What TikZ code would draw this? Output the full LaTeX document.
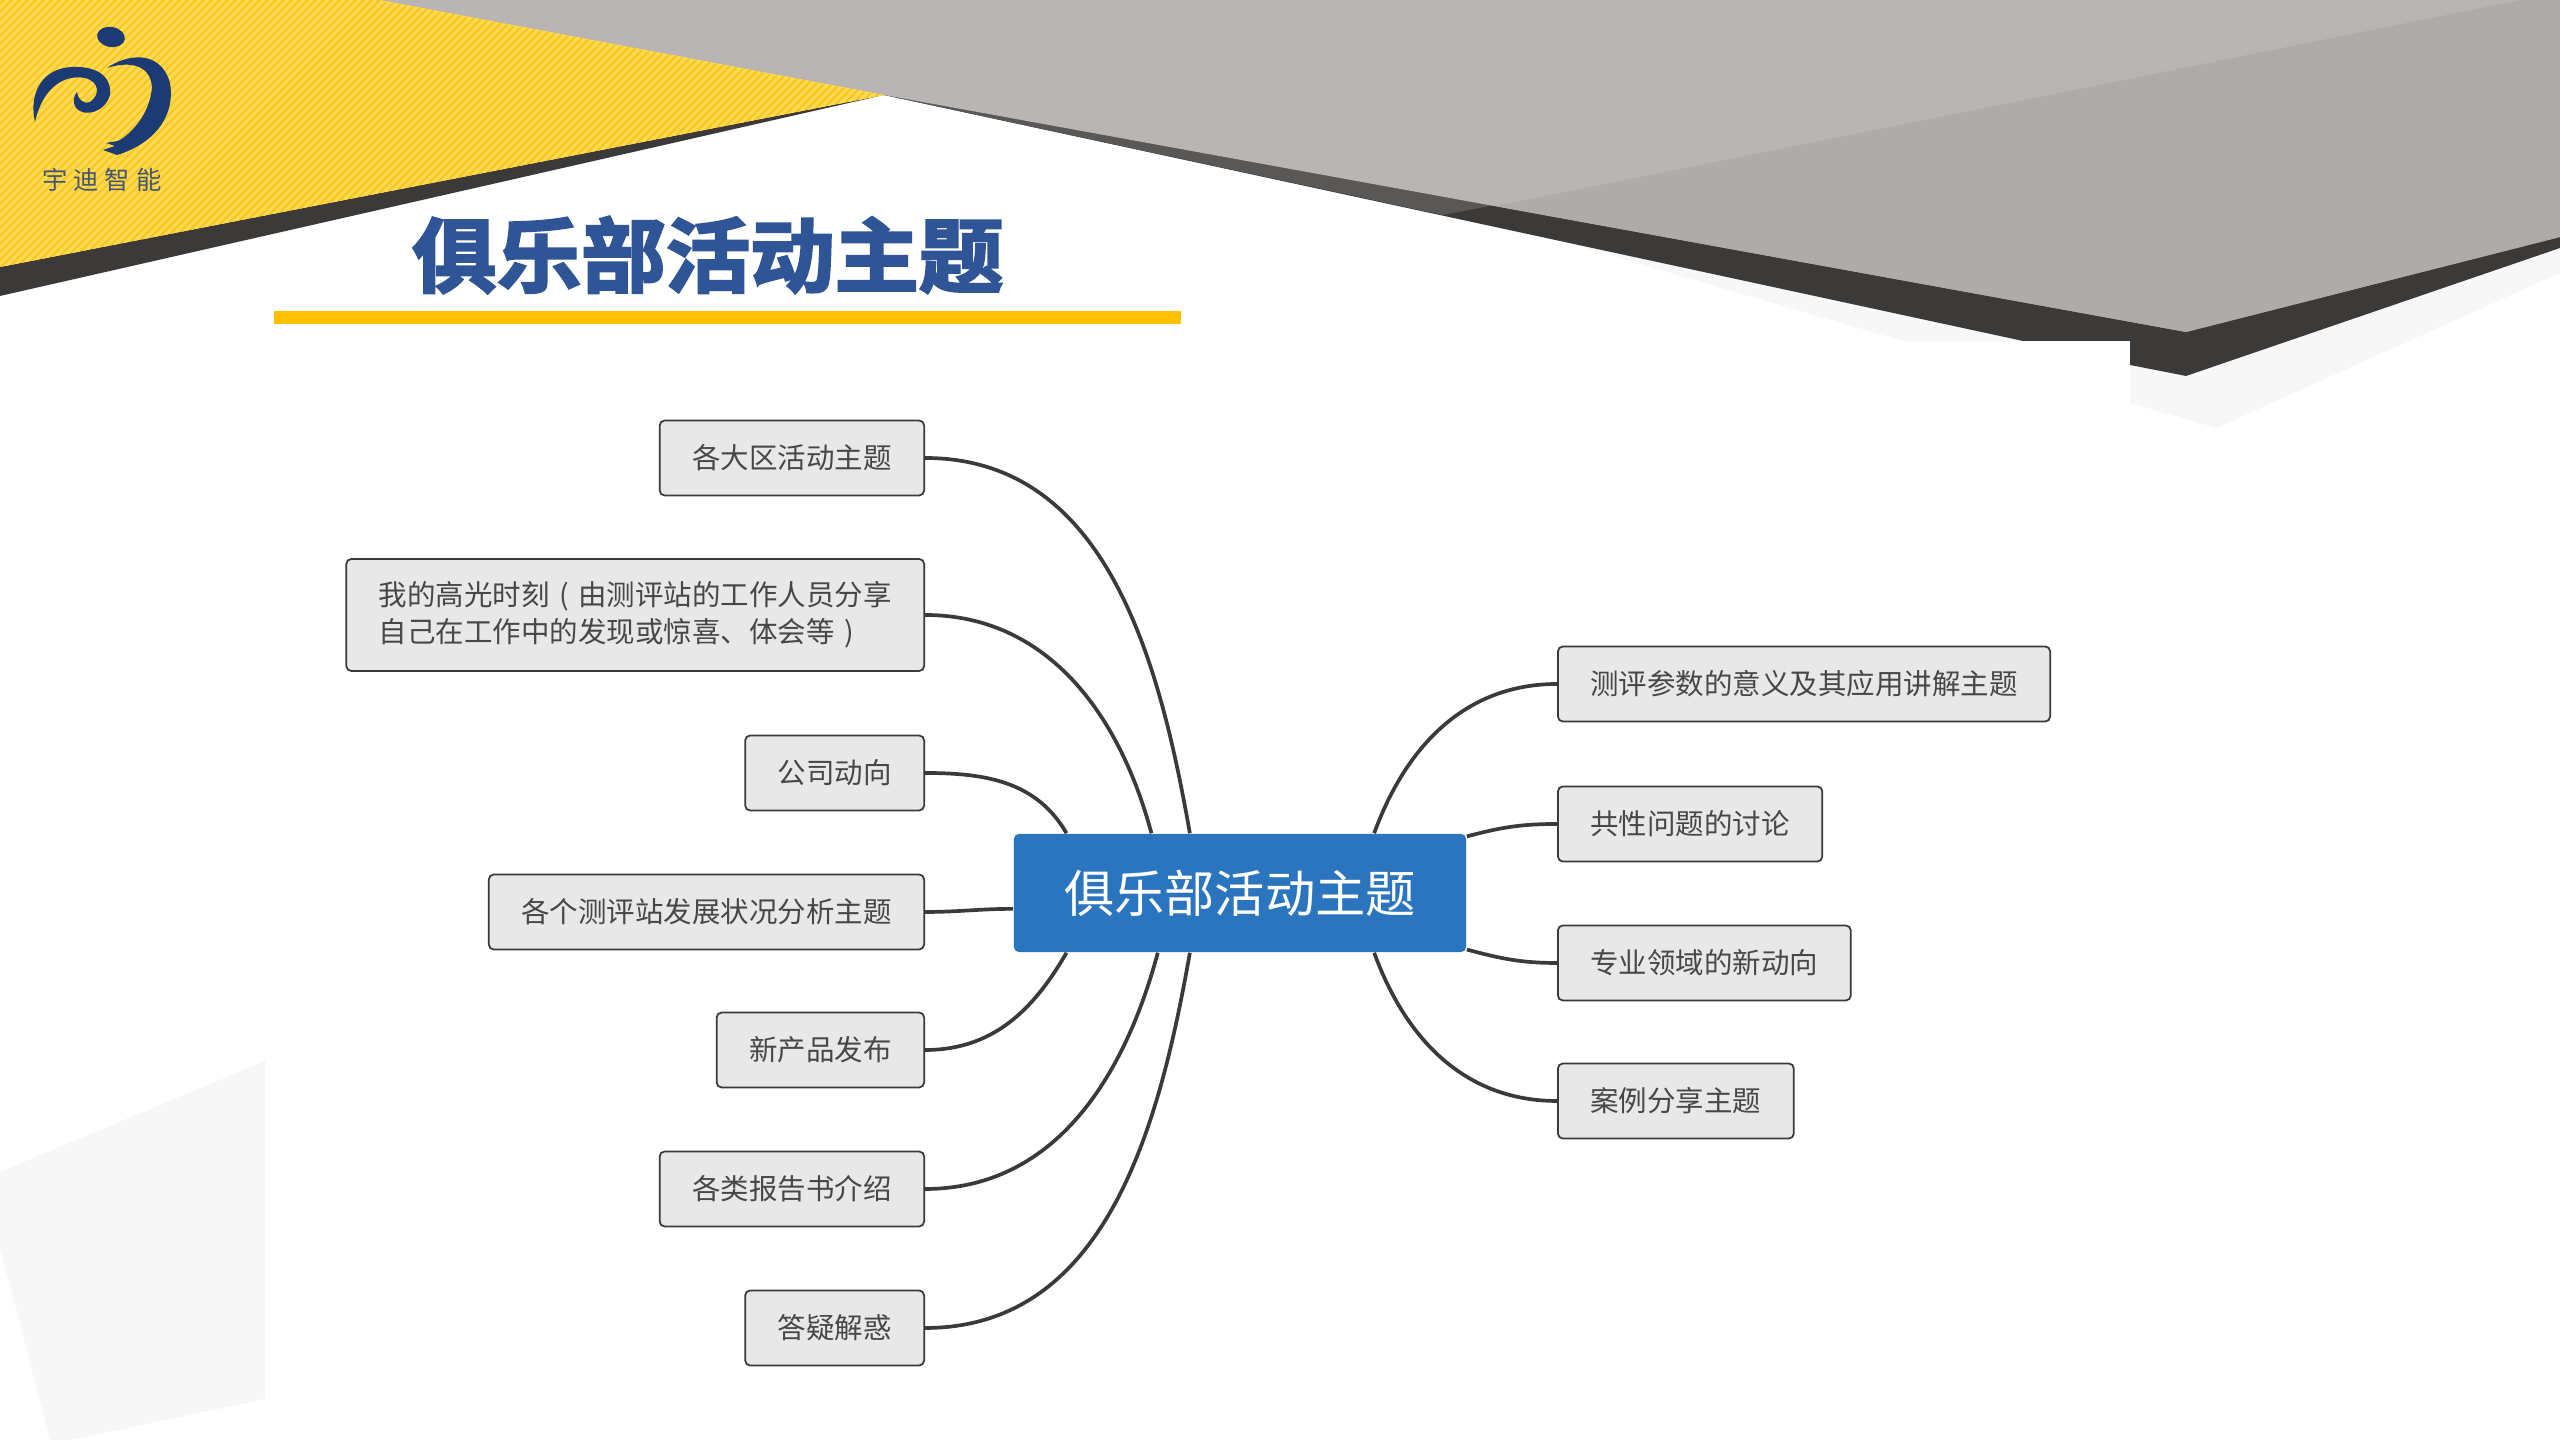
\documentclass[tikz,border=0pt]{standalone}
\usepackage{fontspec}
\usepackage{xcolor}
\usetikzlibrary{calc}
\setmainfont{Noto Sans CJK SC}
\newfontfamily\titlefont[FakeBold=3]{Noto Sans CJK SC Bold}
\definecolor{bandyellow}{HTML}{F9C61F}
\definecolor{stripeyellow}{HTML}{FFDA50}
\definecolor{banddark}{HTML}{3B3A39}
\definecolor{bandmid}{HTML}{595857}
\definecolor{graylight}{HTML}{B8B5B4}
\definecolor{graydark}{HTML}{AEABAA}
\definecolor{faintgray}{HTML}{F7F7F7}
\definecolor{logoblue}{HTML}{1C3A73}
\definecolor{titleblue}{HTML}{2F5597}
\definecolor{barorange}{HTML}{FFC000}
\definecolor{rootblue}{HTML}{2A75BE}
\tikzset{
    leaf/.style={rectangle, rounded corners=0.05cm, draw=banddark, line width=0.5pt, fill=black!9,
        text=black!72, minimum height=0.75cm, inner xsep=0.325cm, inner ysep=0pt,
        font=\fontsize{8.1pt}{10.4pt}\selectfont, align=left},
    root/.style={rectangle, rounded corners=0.05cm, fill=rootblue, text=white,
        minimum width=4.52cm, minimum height=1.18cm, font=\fontsize{14.3pt}{16pt}\selectfont},
    link/.style={draw=banddark, line width=1.05pt}
}
\newcommand{\openparen}{\makebox[1em][c]{(}}
\newcommand{\closeparen}{\makebox[1em][c]{)}}
\begin{document}
\begin{tikzpicture}[x=0.01cm, y=0.01cm]
    \useasboundingbox (0,0) rectangle (2560,1440);
    \fill[white] (0,0) rectangle (2560,1440);
    % faint shadows
    \fill[faintgray] (0,268) -- (265,379) -- (265,41) -- (70,0) -- (50,0) -- (0,193) -- cycle;
    \fill[faintgray] (1517,1212) -- (1903,1099) -- (2023,1099) -- cycle;
    \fill[faintgray] (2130,1075) -- (2130,1037) -- (2216,1012) -- (2560,1167) -- (2560,1192) -- cycle;
    % gray band
    \fill[banddark] (884,1345) -- (2023,1099) -- (2130,1099) -- (2130,1075) -- (2186,1064) -- (2560,1192) -- (2560,1300) -- cycle;
    \fill[bandmid] (884,1345) -- (1443,1225) -- (1495,1235) -- cycle;
    \fill[graylight] (379,1440) -- (884,1345) -- (2186,1108) -- (2560,1203) -- (2560,1440) -- cycle;
    \fill[graydark] (1495,1234) -- (2522,1440) -- (2560,1440) -- (2560,1203) -- (2186,1108) -- cycle;
    % yellow corner
    \fill[banddark] (0,1173) -- (884,1345) -- (0,1144) -- cycle;
    \begin{scope}
        \clip (0,1440) -- (379,1440) -- (884,1345) -- (0,1173) -- cycle;
        \fill[bandyellow] (0,1100) rectangle (900,1440);
        \foreach \s in {0,8,...,1300}
            \draw[stripeyellow, line width=0.035cm] (\s,1440) -- ++(-340,-340);
    \end{scope}
    % logo
    \fill[logoblue, rotate around={-10:(111,1403)}] (111,1403) ellipse (14 and 10);
    \fill[logoblue] (107,1372) .. controls (125,1385) and (160,1392) .. (170,1357)
        .. controls (176,1320) and (150,1295) .. (117,1285) -- (103,1290) -- (115,1294) -- (106,1297) -- (118,1299)
        .. controls (130,1305) and (150,1325) .. (152,1353) .. controls (150,1378) and (125,1378) .. (107,1372) -- cycle;
    \fill[logoblue] (35,1318) .. controls (28,1350) and (45,1372) .. (72,1373)
        .. controls (95,1374) and (112,1365) .. (110,1345) .. controls (105,1328) and (85,1322) .. (76,1332)
        .. controls (72,1338) and (74,1345) .. (77,1348) .. controls (78,1340) and (85,1335) .. (90,1338)
        .. controls (100,1345) and (100,1358) .. (85,1362) .. controls (62,1366) and (42,1350) .. (35,1318) -- cycle;
    \node[text=logoblue!75!black!80, font=\fontsize{7.2pt}{8pt}\selectfont] (logotext) at (102,1260) {宇\hspace{0.06cm}迪\hspace{0.06cm}智\hspace{0.06cm}能};
    % title
    \node[inner sep=0pt, text=titleblue] (title) at (708,1185) {\scalebox{1}[0.96]{\titlefont\fontsize{24pt}{26pt}\selectfont 俱乐部活动主题}};
    \fill[barorange] (274,1116) rectangle (1181,1129);
    % mind map
    \node[root] (center) at (1240,547) {俱乐部活动主题};
    \node[leaf, anchor=east] (areas) at (925,982) {各大区活动主题};
    \node[leaf, anchor=east, minimum height=1.12cm] (moments) at (925,825) {我的高光时刻\openparen 由测评站的工作人员分享\\自己在工作中的发现或惊喜、体会等\closeparen};
    \node[leaf, anchor=east] (company) at (925,667) {公司动向};
    \node[leaf, anchor=east] (stations) at (925,528) {各个测评站发展状况分析主题};
    \node[leaf, anchor=east] (products) at (925,390) {新产品发布};
    \node[leaf, anchor=east] (reports) at (925,251) {各类报告书介绍};
    \node[leaf, anchor=east] (answers) at (925,112) {答疑解惑};
    \node[leaf, anchor=west] (params) at (1557,756) {测评参数的意义及其应用讲解主题};
    \node[leaf, anchor=west] (issues) at (1557,616) {共性问题的讨论};
    \node[leaf, anchor=west] (trends) at (1557,477) {专业领域的新动向};
    \node[leaf, anchor=west] (cases) at (1557,339) {案例分享主题};
    % connectors
    \draw[link] (areas.east) to[out=0, in=100] (center.130);
    \draw[link] (moments.east) to[out=0, in=105] (center.146);
    \draw[link] (company.east) to[out=0, in=120] (center.161);
    \draw[link] (stations.east) to[out=0, in=180] (center.184);
    \draw[link] (products.east) to[out=0, in=-120] (center.199);
    \draw[link] (reports.east) to[out=0, in=-105] (center.216);
    \draw[link] (answers.east) to[out=0, in=-100] (center.230);
    \draw[link] (params.west) to[out=180, in=70] (center.24);
    \draw[link] (issues.west) to[out=180, in=15] (center.14);
    \draw[link] (trends.west) to[out=180, in=-15] (center.-14);
    \draw[link] (cases.west) to[out=180, in=-70] (center.-24);
\end{tikzpicture}
\end{document}
